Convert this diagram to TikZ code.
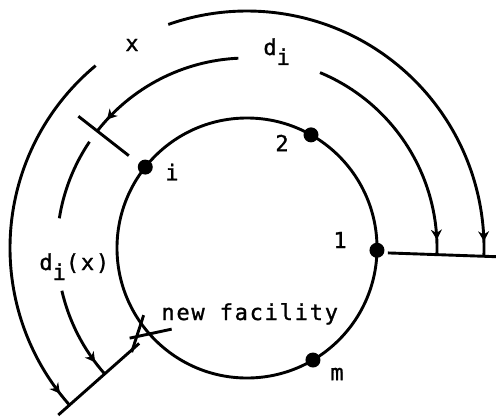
\documentclass[tikz,border=0pt]{standalone}
\usepackage{fontspec}
\usepackage{tikz}
\usetikzlibrary{arrows.meta,positioning,decorations.markings}
\newfontfamily\typewriter[LetterSpace=8,FakeBold=1.2]{DejaVu Sans Mono}
\newcommand\lowi{\raisebox{-5pt}{i}}

\begin{document}
\begin{tikzpicture}[x=0.5pt,y=0.5pt,line width=1.45pt,
  site/.style={circle,fill=black,inner sep=0pt,minimum size=7.5pt},
  lbl/.style={font=\typewriter\fontsize{11}{13}\selectfont,inner sep=0pt},
  dim/.style={postaction={decorate},decoration={markings,
    mark=at position -7.5pt with {\arrow{Stealth[length=5pt,width=5.5pt]}}}}]
\useasboundingbox (-247,-170) rectangle (249,248);
\coordinate (c) at (0,0);
\draw (c) circle[radius=130];
\node[site] (p1) at (-1:130) {};
\node[site] (p2) at (60.5:130) {};
\node[site] (pi) at (141.5:130) {};
\node[site] (pm) at (-59.5:130) {};
\coordinate (nf) at (221.5:130);
% labels
\node[lbl] (t1) at (93,8) {1};
\node[lbl] (t2) at (35,105) {2};
\node[lbl] (ti) at (-75,76) {i};
\node[lbl] (tm) at (90,-126) {m};
\node[lbl,anchor=base west] (tnf) at (-87,-72) {new facility};
\node[lbl] (tx) at (-115,203) {x};
\node[lbl,anchor=base west] (tdi) at (15,193) {d\lowi};
\node[lbl,anchor=base west] (tdix) at (-209,-22) {d\lowi(x)};
% radial lines
\coordinate (r1a) at (-2:141);
\coordinate (r1b) at (-2:250);
\coordinate (ria) at (142:150);
\coordinate (rib) at (142:214);
\coordinate (rna) at (221.5:144);
\coordinate (rnb) at (221.5:252);
\draw (r1a) -- (r1b);
\draw (ria) -- (rib);
\draw (rna) -- (rnb);
% cross at the new facility
\draw (nf) ++(-20,-4) -- ++(42,9);
\draw (nf) ++(-6,19) -- ++(-12,-37);
% distance arcs
\coordinate (xa) at (109.4:237);
\coordinate (xb) at (129.7:237);
\coordinate (da) at (67.4:190);
\coordinate (db) at (92.6:190);
\coordinate (ea) at (146:190);
\coordinate (eb) at (193:190);
\draw[dim] (xa) arc[start angle=109.4,end angle=-2,radius=237];
\draw[dim] (xb) arc[start angle=129.7,end angle=221.5,radius=237];
\draw[dim] (da) arc[start angle=67.4,end angle=-2,radius=190];
\draw[dim] (db) arc[start angle=92.6,end angle=142,radius=190];
\draw (ea) arc[start angle=146,end angle=171,radius=190];
\draw[dim] (eb) arc[start angle=193,end angle=221.5,radius=190];
\end{tikzpicture}
\end{document}
